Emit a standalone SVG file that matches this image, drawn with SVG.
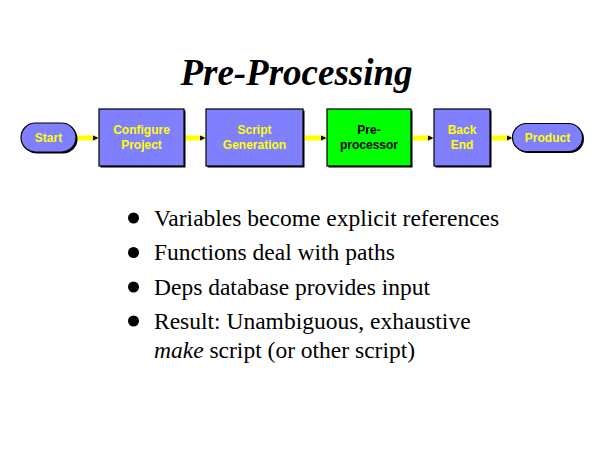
<svg xmlns="http://www.w3.org/2000/svg" width="600" height="450" viewBox="0 0 600 450">
<defs>
<style>
.node{fill:#8080FF;stroke:#000;stroke-width:1.2}
.green{fill:#00FF00}
.shadow{fill:#000}
.lbl{font-family:"Liberation Sans",Arial,sans-serif;font-weight:bold;font-size:12px;fill:#FFFF00;text-anchor:middle}
.dark{fill:#000}
.conn{stroke:#FFFF00;stroke-width:5;fill:none}
.head{fill:#000}
.title{font-family:"Liberation Serif","Times New Roman",serif;font-weight:bold;font-style:italic;font-size:37px;fill:#000;text-anchor:middle}
.body{font-family:"Liberation Serif","Times New Roman",serif;font-size:23.5px;fill:#000}
</style>
</defs>
<rect width="600" height="450" fill="#fff"/>
<text class="title" x="296.5" y="85">Pre-Processing</text>

<g id="connectors">
<line class="conn" x1="76" y1="138" x2="97" y2="138"/><path class="head" d="M93,135.5 L98.5,138 L93,140.5 Z"/>
<line class="conn" x1="185" y1="138" x2="204" y2="138"/><path class="head" d="M200,135.5 L205.5,138 L200,140.5 Z"/>
<line class="conn" x1="305" y1="138" x2="325" y2="138"/><path class="head" d="M321,135.5 L326.5,138 L321,140.5 Z"/>
<line class="conn" x1="413" y1="138" x2="432" y2="138"/><path class="head" d="M428,135.5 L433.5,138 L428,140.5 Z"/>
<line class="conn" x1="492" y1="138" x2="511" y2="138"/><path class="head" d="M507,135.5 L512.5,138 L507,140.5 Z"/>
</g>

<g id="start">
<rect class="shadow" x="22.5" y="124.5" width="55" height="29" rx="14.5"/>
<rect class="node" x="21" y="123" width="55" height="29" rx="14.5"/>
<text class="lbl" x="48.5" y="141.5">Start</text>
</g>
<g id="configure">
<rect class="shadow" x="100.5" y="110.5" width="85" height="57"/>
<rect class="node" x="99" y="109" width="85" height="57"/>
<text class="lbl" x="141.5" y="134">Configure</text>
<text class="lbl" x="141.5" y="148.5">Project</text>
</g>
<g id="script">
<rect class="shadow" x="207.5" y="110.5" width="97" height="57"/>
<rect class="node" x="206" y="109" width="97" height="57"/>
<text class="lbl" x="254.5" y="134">Script</text>
<text class="lbl" x="254.5" y="148.5">Generation</text>
</g>
<g id="preprocessor">
<rect class="shadow" x="328.5" y="110.5" width="84" height="57"/>
<rect class="node green" x="327" y="109" width="84" height="57"/>
<text class="lbl dark" x="369" y="134">Pre-</text>
<text class="lbl dark" x="369" y="148.5">processor</text>
</g>
<g id="backend">
<rect class="shadow" x="435.5" y="110.5" width="56" height="57"/>
<rect class="node" x="434" y="109" width="56" height="57"/>
<text class="lbl" x="462" y="134">Back</text>
<text class="lbl" x="462" y="148.5">End</text>
</g>
<g id="product">
<rect class="shadow" x="514" y="125" width="70" height="28" rx="14"/>
<rect class="node" x="512.5" y="123.5" width="70" height="28" rx="14"/>
<text class="lbl" x="547.5" y="141.5">Product</text>
</g>

<g id="bullets">
<circle cx="133.5" cy="218" r="5.5"/>
<circle cx="133.5" cy="252.5" r="5.5"/>
<circle cx="133.5" cy="287" r="5.5"/>
<circle cx="133.5" cy="321" r="5.5"/>
<text class="body" x="154" y="225.5">Variables become explicit references</text>
<text class="body" x="154" y="260">Functions deal with paths</text>
<text class="body" x="154" y="294.5">Deps database provides input</text>
<text class="body" x="154" y="328.5">Result: Unambiguous, exhaustive</text>
<text class="body" x="154" y="357.5"><tspan font-style="italic">make</tspan> script (or other script)</text>
</g>
</svg>
